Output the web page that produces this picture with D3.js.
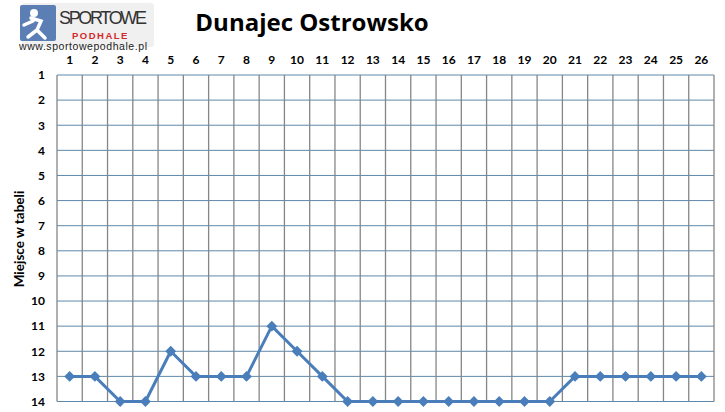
<!DOCTYPE html>
<html><head><meta charset="utf-8">
<script src="https://cdn.jsdelivr.net/npm/d3@7"></script>
<style>body{margin:0;background:#fff}svg{display:block}</style>
</head><body><svg id="c" width="725" height="412"></svg>
<script>
const rounds = d3.range(1, 27).map(String);
const places = [13,13,14,14,12,13,13,13,11,12,13,14,14,14,14,14,14,14,14,14,13,13,13,13,13,13];
const yTicks = d3.range(1, 15);
const title = "Dunajec Ostrowsko";
const yLabel = "Miejsce w tabeli";

const svg = d3.select("#c");
const m = {l:57, r:714, t:75, b:401.5};
const x = d3.scaleBand().domain(rounds).range([m.l, m.r]);
const y = d3.scaleLinear().domain([1, 14]).range([m.t, m.b]);
const font = "Lato, 'Open Sans', sans-serif";

// logo (drawn first so axis labels sit on top)
const logo = svg.append("g");
logo.append("rect").attr("x", 22).attr("y", 3).attr("width", 132).attr("height", 44).attr("fill", "#e6e6e6").attr("rx", 3).attr("opacity", 0.6);
logo.append("rect").attr("x", 20).attr("y", 5).attr("width", 36).attr("height", 36).attr("fill", "#5b7fb5").attr("rx", 2);
logo.append("circle").attr("cx", 34).attr("cy", 13).attr("r", 4).attr("fill", "#fff");
logo.append("path").attr("d", "M31 18 L41 21 L37 30 L45 38 M37 30 L28 37 M33 21 L24 25").attr("stroke", "#fff").attr("stroke-width", 3.5).attr("fill", "none").attr("stroke-linecap", "round");
logo.append("text").attr("x", 59).attr("y", 24).attr("font-family", "'Liberation Sans', sans-serif").attr("font-size", 18).attr("fill", "#333").attr("textLength", 88).text("SPORTOWE");
logo.append("text").attr("x", 72).attr("y", 39).attr("font-family", "'Liberation Sans', sans-serif").attr("font-weight", "bold").attr("font-size", 9.5).attr("fill", "#d12a2a").attr("letter-spacing", 1.5).text("PODHALE");
logo.append("text").attr("x", 19).attr("y", 50).attr("font-family", "'Liberation Sans', sans-serif").attr("font-size", 10.5).attr("fill", "#222").attr("textLength", 128).text("www.sportowepodhale.pl");

// horizontal gridlines
svg.append("g").selectAll("line").data(yTicks).join("line")
  .attr("x1", m.l).attr("x2", m.r).attr("y1", d => y(d)).attr("y2", d => y(d))
  .attr("stroke", "#5f89ab").attr("stroke-width", 1);
// vertical gridlines
const xEdges = rounds.map(d => x(d)).concat([m.r]);
svg.append("g").selectAll("line").data(xEdges).join("line")
  .attr("x1", d => d).attr("x2", d => d).attr("y1", m.t).attr("y2", m.b)
  .attr("stroke", "#868686").attr("stroke-width", 1.3);

// x axis (top)
const xAxis = svg.append("g").attr("transform", `translate(0,${m.t})`)
  .call(d3.axisTop(x).tickSize(0).tickPadding(11));
xAxis.select(".domain").remove();
xAxis.selectAll("text").attr("font-family", font).attr("font-weight", "bold")
  .attr("font-size", 12).attr("fill", "#000");

// y axis
const yAxis = svg.append("g").attr("transform", `translate(${m.l},0)`)
  .call(d3.axisLeft(y).tickValues(yTicks).tickSize(0).tickPadding(12).tickFormat(d3.format("d")));
yAxis.select(".domain").remove();
yAxis.selectAll("text").attr("font-family", font).attr("font-weight", "bold")
  .attr("font-size", 12).attr("fill", "#000");

// line
const line = d3.line().x((d, i) => x(rounds[i]) + x.bandwidth() / 2).y(d => y(d));
svg.append("path").datum(places).attr("d", line)
  .attr("fill", "none").attr("stroke", "#4a7ebb").attr("stroke-width", 3)
  .attr("stroke-linejoin", "round");
svg.append("g").selectAll("path").data(places).join("path")
  .attr("d", d3.symbol(d3.symbolDiamond2, 75))
  .attr("transform", (d, i) => `translate(${x(rounds[i]) + x.bandwidth() / 2},${y(d)})`)
  .attr("fill", "#4a7ebb");

// title
svg.append("text").attr("x", 312).attr("y", 31).attr("text-anchor", "middle")
  .attr("font-family", "'Open Sans', sans-serif").attr("font-weight", "bold").attr("font-size", 24)
  .attr("fill", "#000").text(title);

// y label
svg.append("text").attr("transform", "translate(24,239) rotate(-90)").attr("text-anchor", "middle")
  .attr("font-family", font).attr("font-weight", "bold").attr("font-size", 13.5)
  .attr("fill", "#000").text(yLabel);
</script></body></html>
